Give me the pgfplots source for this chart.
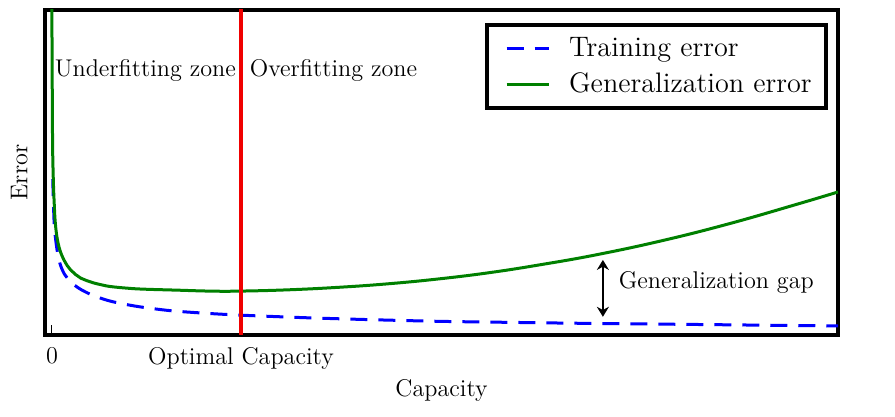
\documentclass[border=0pt]{standalone}
\usepackage{pgfplots}
\pgfplotsset{compat=1.18}
\usetikzlibrary{calc,arrows.meta}
\definecolor{mplgreen}{RGB}{0,128,0}
\definecolor{mplblue}{RGB}{0,0,255}
\definecolor{mplred}{RGB}{240,0,0}
\newcommand{\txt}{\fontsize{12.1}{14.5}\selectfont}
\begin{document}
\begin{tikzpicture}
\begin{axis}[
  scale only axis,
  width=396.5pt, height=162.5pt,
  xmin=-0.037, xmax=4.159, ymin=0, ymax=1,
  axis line style={black, line width=2pt},
  xtick={0,1}, xticklabels={0,Optimal Capacity},
  xtick pos=lower, ytick=\empty,
  major tick length=5pt,
  every tick/.style={black, line width=0.5pt},
  tick label style={font=\txt},
  xticklabel style={yshift=-2.5pt},
  xlabel={Capacity}, ylabel={Error},
  every axis x label/.style={at={(axis description cs:0.5,-0.19)}, anchor=base, font=\txt},
  every axis y label/.style={at={(axis description cs:-0.0214,0.5)}, anchor=south, rotate=90, inner sep=0pt, font=\txt},
  legend style={at={(rel axis cs:0.987,0.96)}, anchor=north east, draw=black, line width=2pt,
    font=\fontsize{14.1}{17}\selectfont, inner xsep=7pt, inner ysep=5pt, row sep=5pt,
    nodes={inner xsep=0pt, inner ysep=1pt},
    /tikz/every odd column/.append style={column sep=9.5pt}},
  legend cell align=left,
  legend image code/.code={\path (0pt,0pt); \draw[#1] (2pt,0pt) -- (23pt,0pt);},
  clip=true,
]
\addplot[mplblue, line width=1.5pt, dash pattern=on 8.5pt off 5.5pt, smooth, tension=0.5] coordinates {
(0.004,0.48) (0.008,0.40) (0.013,0.33) (0.026,0.265) (0.042,0.220) (0.065,0.188)
(0.090,0.170) (0.120,0.153) (0.153,0.140) (0.200,0.126) (0.238,0.117) (0.317,0.103)
(0.450,0.088) (0.624,0.075) (0.810,0.067) (1.000,0.061) (1.349,0.053) (1.698,0.047)
(2.053,0.042) (2.407,0.039) (2.800,0.036) (3.305,0.033) (3.800,0.030) (4.159,0.028)};
\addlegendentry{Training error}
\addplot[mplgreen, line width=1.5pt, smooth, tension=0.7] coordinates {
(-0.001,1.05) (0.001,0.80) (0.003,0.60) (0.006,0.50) (0.011,0.415) (0.0196,0.332)
(0.037,0.271) (0.063,0.231) (0.080,0.214) (0.099,0.200) (0.125,0.186) (0.152,0.175)
(0.185,0.167) (0.222,0.160) (0.265,0.154) (0.311,0.149) (0.40,0.144) (0.487,0.141)
(0.661,0.138) (0.841,0.135) (0.989,0.135) (1.25,0.139) (1.524,0.147) (1.788,0.158)
(2.053,0.173) (2.317,0.192) (2.582,0.216) (2.882,0.247) (3.234,0.291)
(3.587,0.343) (3.940,0.402) (4.159,0.440)};
\addlegendentry{Generalization error}
\addplot[mplred, line width=2pt, forget plot] coordinates {(1,-0.1) (1,1.1)};
\node[font=\txt, anchor=base east, inner sep=0pt] at (axis cs:0.975,0.794) {Underfitting zone};
\node[font=\txt, anchor=base west, inner sep=0pt] at (axis cs:1.045,0.794) {Overfitting zone};
\draw[{Stealth[length=5pt,width=6pt]}-{Stealth[length=5pt,width=6pt]}, line width=1.2pt, black]
  (axis cs:2.915,0.231) -- (axis cs:2.915,0.056);
\node[font=\txt, anchor=base west, inner sep=0pt] at (axis cs:2.997,0.144) {Generalization gap};
\end{axis}
\path ($(current axis.south west)+(-22.5pt,-41pt)$) rectangle ($(current axis.north east)+(28.5pt,5pt)$);
\end{tikzpicture}
\end{document}
